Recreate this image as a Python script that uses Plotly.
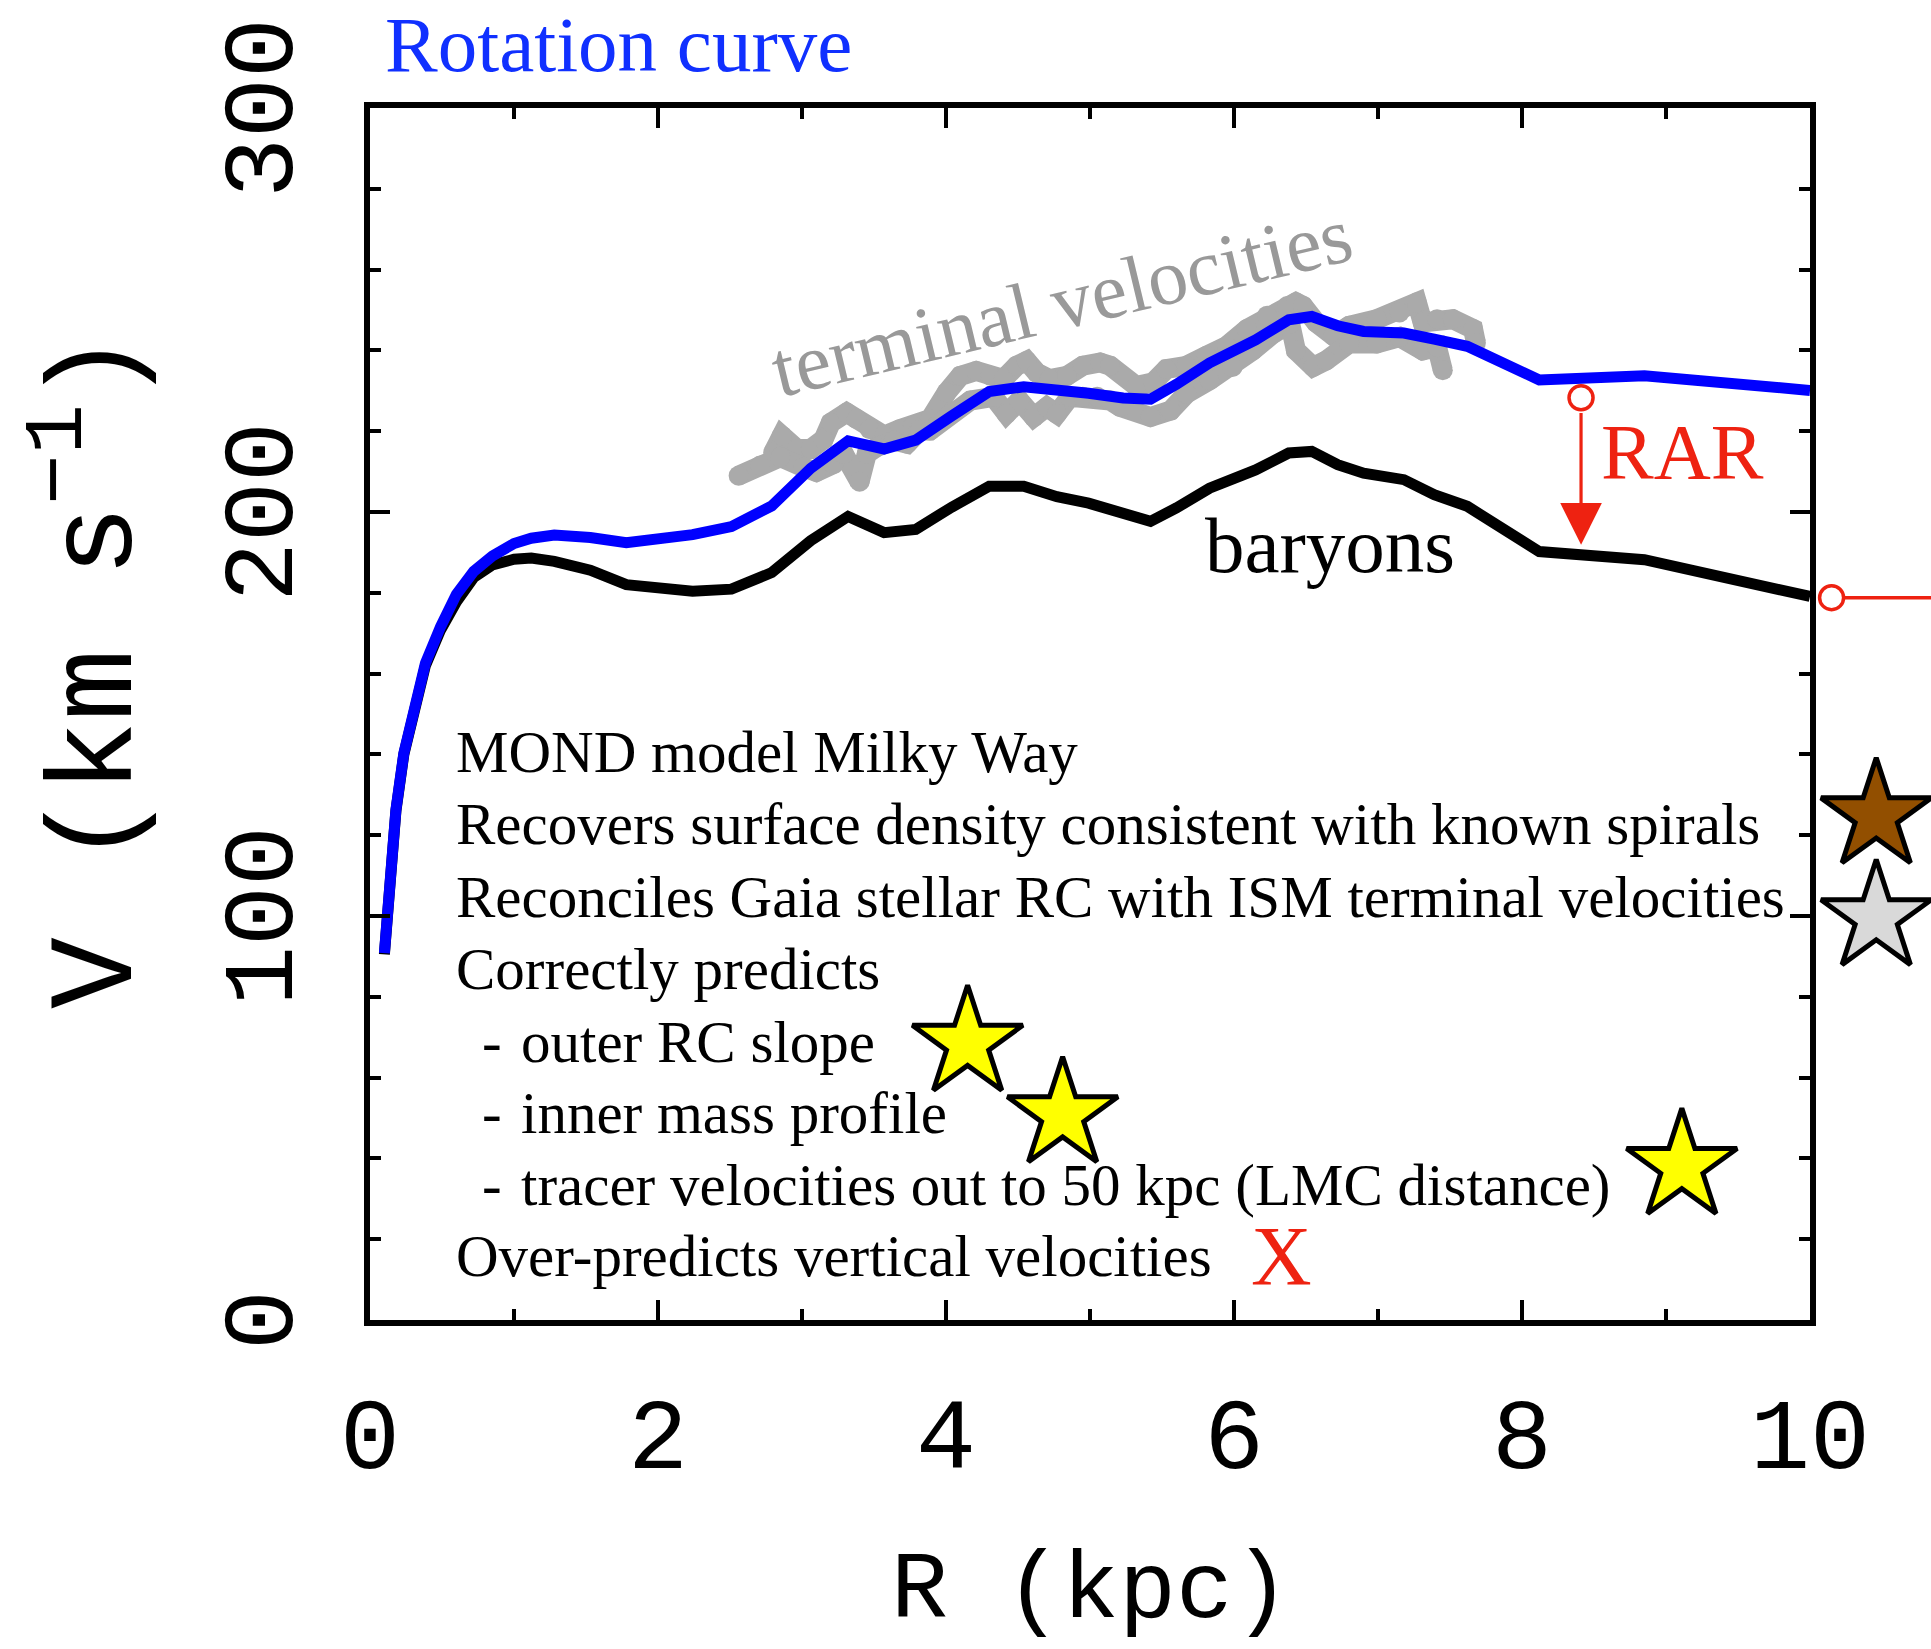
import plotly.graph_objects as go

# ---- model rotation curves (R in kpc, V in km/s) ----
R_KPC = [0.10, 0.13, 0.18, 0.235, 0.29, 0.385, 0.49, 0.60, 0.72, 0.85, 1.00, 1.12,
         1.28, 1.53, 1.78, 2.24, 2.51, 2.79, 3.06, 3.32, 3.57, 3.79, 4.04, 4.30,
         4.54, 4.77, 4.99, 5.23, 5.42, 5.60, 5.83, 6.15, 6.38, 6.54, 6.72, 6.90,
         7.18, 7.39, 7.62, 8.12, 8.85, 10.0]
V_ROT = [90.8, 103.2, 126.3, 140.3, 149.4, 162.6, 171.6, 179.6, 185.3, 189.1, 192.2, 193.5,
         194.3, 193.7, 192.4, 194.4, 196.4, 201.5, 210.8, 217.6, 215.6, 217.8, 223.8, 229.8,
         231.0, 230.3, 229.4, 228.2, 227.9, 231.6, 236.9, 242.6, 247.6, 248.4, 246.1, 244.7,
         244.3, 242.8, 241.0, 232.7, 233.7, 230.1]
V_BAR = [90.5, 103.0, 126.0, 140.0, 149.0, 162.0, 170.8, 177.8, 183.8, 186.9, 188.3, 188.6,
         187.8, 185.6, 182.0, 180.4, 180.9, 185.0, 192.9, 198.9, 194.9, 195.7, 201.2, 206.4,
         206.4, 203.8, 202.2, 199.7, 197.7, 201.0, 205.9, 210.4, 214.6, 215.0, 211.7, 209.6,
         208.0, 204.3, 201.4, 190.2, 188.2, 179.1]

# ---- ISM terminal velocities (two tracks) ----
TV1_R = [2.80, 2.86, 2.965, 3.06, 3.15, 3.20, 3.31, 3.38, 3.47, 3.57, 3.68, 3.77,
         3.89, 4.005, 4.10, 4.21, 4.31, 4.40, 4.49, 4.56, 4.63, 4.72, 4.84, 4.95,
         5.07, 5.14, 5.32, 5.44, 5.53, 5.67, 5.81, 5.95, 6.09, 6.23, 6.37, 6.43,
         6.48, 6.57, 6.69, 6.80, 6.99, 7.15, 7.27, 7.31, 7.41, 7.52, 7.66, 7.68]
TV1_V = [214.7, 218.9, 215.6, 215.6, 218.0, 222.1, 224.6, 223.0, 220.5, 218.9, 220.5, 221.3,
         223.0, 229.6, 233.7, 234.9, 233.7, 232.9, 236.2, 237.4, 234.5, 232.9, 233.7, 236.2,
         237.0, 236.2, 231.2, 232.1, 235.4, 236.2, 238.7, 241.1, 245.3, 248.6, 251.0, 251.9,
         251.0, 246.9, 243.6, 246.1, 247.7, 249.4, 251.9, 246.9, 247.7, 247.7, 245.3, 241.9]
TV2_R = [2.56, 2.71, 2.85, 3.01, 3.10, 3.22, 3.29, 3.40, 3.45, 3.52, 3.64, 3.73,
         3.82, 3.89, 4.03, 4.17, 4.33, 4.42, 4.51, 4.61, 4.70, 4.77, 4.86, 4.95,
         5.05, 5.14, 5.21, 5.42, 5.56, 5.67, 5.83, 5.99, 6.13, 6.27, 6.39, 6.43,
         6.55, 6.64, 6.80, 6.99, 7.15, 7.31, 7.41, 7.45]
TV2_V = [209.0, 211.5, 213.6, 211.1, 209.9, 211.9, 214.4, 207.5, 214.4, 216.1, 217.7, 216.9,
         220.2, 220.2, 224.3, 227.6, 228.5, 224.3, 227.6, 223.5, 226.0, 224.3, 228.5, 228.5,
         228.5, 227.6, 226.0, 223.5, 225.1, 229.3, 232.6, 235.9, 240.0, 244.1, 246.6, 240.0,
         235.9, 237.5, 241.7, 241.7, 243.3, 240.0, 240.8, 235.1]

# ---- verdict stars ----
STAR_R = [4.15, 4.81, 9.11, 10.46, 10.46]
STAR_V = [68.5, 50.8, 38.0, 124.8, 99.6]
STAR_FILL = ["#ffff00", "#ffff00", "#ffff00", "#924f00", "#d9d9d9"]

# ---- RAR markers ----
RAR_R = [8.41, 10.15]
RAR_V = [228.3, 178.8]
RAR_TIP_V = 191.9

# ---- axis labels ----
V_TICKS = [0, 100, 200, 300]

# ---- text list ----
NOTES = ["MOND model Milky Way",
         "Recovers surface density consistent with known spirals",
         "Reconciles Gaia stellar RC with ISM terminal velocities",
         "Correctly predicts",
         "outer RC slope",
         "inner mass profile",
         "tracer velocities out to 50 kpc (LMC distance)",
         "Over-predicts vertical velocities"]
NOTE_V = [140.5, 122.8, 104.7, 86.9, 68.8, 51.2, 33.5, 15.8]
NOTE_BULLET = [False, False, False, False, True, True, True, False]

RED = "#ee2211"
GREY_DOTS = "#aaaaaa"
SERIF = "Liberation Serif"
MONO = "Liberation Mono"

# page geometry: main frame plus a strip to its right (same kpc scale)
W, H = 1931, 1649
M_L, M_R, M_T, M_B = 370, 121, 108, 329
X_MAX = 10.0
strip_w = W - M_L
main_w = W - M_L - M_R
split = main_w / strip_w
x2_max = X_MAX + M_R * X_MAX / main_w

fig = go.Figure()

for r, v in ((TV1_R, TV1_V), (TV2_R, TV2_V)):
    fig.add_trace(go.Scatter(x=r, y=v, mode="lines+markers",
                             line=dict(color=GREY_DOTS, width=20),
                             marker=dict(color=GREY_DOTS, size=20, line=dict(width=0)),
                             hoverinfo="skip", showlegend=False))

fig.add_trace(go.Scatter(x=R_KPC, y=V_BAR, mode="lines",
                         line=dict(color="black", width=11),
                         showlegend=False))
fig.add_trace(go.Scatter(x=R_KPC, y=V_ROT, mode="lines",
                         line=dict(color="#0000ff", width=11),
                         showlegend=False))

star_style = dict(symbol="star", size=83, line=dict(color="black", width=5))
inside = [i for i, r in enumerate(STAR_R) if r <= X_MAX]
outside = [i for i, r in enumerate(STAR_R) if r > X_MAX]
fig.add_trace(go.Scatter(x=[STAR_R[i] for i in inside], y=[STAR_V[i] for i in inside],
                         mode="markers", cliponaxis=False,
                         marker=dict(star_style, color=[STAR_FILL[i] for i in inside]),
                         showlegend=False))
fig.add_trace(go.Scatter(x=[STAR_R[i] for i in outside], y=[STAR_V[i] for i in outside],
                         mode="markers", cliponaxis=False, xaxis="x2", yaxis="y2",
                         marker=dict(star_style, color=[STAR_FILL[i] for i in outside]),
                         showlegend=False))

ring = dict(symbol="circle", size=24, color="white", line=dict(color=RED, width=3.5))
# connector leaving the frame to the right
fig.add_trace(go.Scatter(x=[RAR_R[1], x2_max], y=[RAR_V[1], RAR_V[1]], mode="lines",
                         xaxis="x2", yaxis="y2", line=dict(color=RED, width=3.5),
                         showlegend=False))
fig.add_trace(go.Scatter(x=[RAR_R[1]], y=[RAR_V[1]], mode="markers", cliponaxis=False,
                         xaxis="x2", yaxis="y2", marker=ring, showlegend=False))
fig.add_trace(go.Scatter(x=[RAR_R[0]], y=[RAR_V[0]], mode="markers", cliponaxis=False,
                         marker=ring, showlegend=False))

# RAR arrow from total to baryonic curve
fig.add_annotation(x=RAR_R[0], y=RAR_TIP_V, ax=RAR_R[0], ay=RAR_V[0] - 3.4,
                   xref="x", yref="y", axref="x", ayref="y", text="",
                   showarrow=True, arrowhead=2, arrowsize=2.6, arrowwidth=3.2,
                   arrowcolor=RED, standoff=0, startstandoff=0)

big = dict(family=SERIF, size=79)
fig.add_annotation(x=0.0085, y=1.052, xref="paper", yref="paper", text="Rotation curve",
                   showarrow=False, xanchor="left", yanchor="middle",
                   font=dict(big, color="#1030ff"))
fig.add_annotation(x=4.80, y=252.0, text="terminal velocities", textangle=-13.5,
                   showarrow=False, font=dict(family=SERIF, size=80, color="#999999"))
fig.add_annotation(x=6.67, y=191.7, text="baryons", showarrow=False,
                   font=dict(big, color="black"))
fig.add_annotation(x=9.115, y=215.1, text="RAR", showarrow=False,
                   font=dict(big, color=RED))
fig.add_annotation(x=6.33, y=15.7, text="X", showarrow=False,
                   font=dict(family=SERIF, size=84, color=RED))

note_font = dict(family=SERIF, size=59, color="black")
for text, v, bullet in zip(NOTES, NOTE_V, NOTE_BULLET):
    if bullet:
        fig.add_annotation(x=0.767, y=v, text="-", showarrow=False,
                           xanchor="left", yanchor="middle", font=note_font)
        fig.add_annotation(x=1.035, y=v, text=text, showarrow=False,
                           xanchor="left", yanchor="middle", font=note_font)
    else:
        fig.add_annotation(x=0.586, y=v, text=text, showarrow=False,
                           xanchor="left", yanchor="middle", font=note_font)

# vertical-axis numbers, set upright along the axis
for v in V_TICKS:
    fig.add_annotation(x=(265 - M_L) / strip_w, y=v, xref="paper", yref="y",
                       text=str(v), textangle=-90, showarrow=False,
                       xanchor="center", yanchor="middle",
                       font=dict(family=MONO, size=100, color="black"))

# axis titles
fig.add_annotation(x=0.5 * split, y=-0.2245, xref="paper", yref="paper", text="R (kpc)",
                   showarrow=False, xanchor="center", yanchor="middle",
                   font=dict(family=MONO, size=95, color="black"))
fig.add_annotation(x=-0.1805, y=0.5357, xref="paper", yref="paper",
                   text="V (km s<sup>\u22121</sup>)", textangle=-90,
                   showarrow=False, xanchor="center", yanchor="middle",
                   font=dict(family=MONO, size=120, color="black"))

axis_common = dict(showline=True, linecolor="black", linewidth=5.5, mirror="allticks",
                   ticks="inside", tickcolor="black", tickwidth=4, ticklen=20,
                   showgrid=False, zeroline=False)

fig.update_layout(
    template="none", width=W, height=H, autosize=False,
    margin=dict(l=M_L, r=0, t=M_T, b=M_B),
    paper_bgcolor="white", plot_bgcolor="white", showlegend=False,
    xaxis=dict(axis_common, domain=[0, split], range=[0, X_MAX], tick0=0, dtick=2,
               ticklabelstandoff=22, anchor="y",
               tickfont=dict(family=MONO, size=100, color="black"),
               minor=dict(ticks="inside", dtick=1, ticklen=11, tickwidth=4,
                          tickcolor="black", showgrid=False)),
    yaxis=dict(axis_common, range=[0, 300], tickvals=V_TICKS, showticklabels=False,
               anchor="x",
               minor=dict(ticks="inside", dtick=20, ticklen=11, tickwidth=4,
                          tickcolor="black", showgrid=False)),
    xaxis2=dict(domain=[split, 1], range=[X_MAX, x2_max], anchor="y2", visible=False),
    yaxis2=dict(domain=[0, 1], range=[0, 300], anchor="x2", visible=False),
)

fig.write_html("out.html")
